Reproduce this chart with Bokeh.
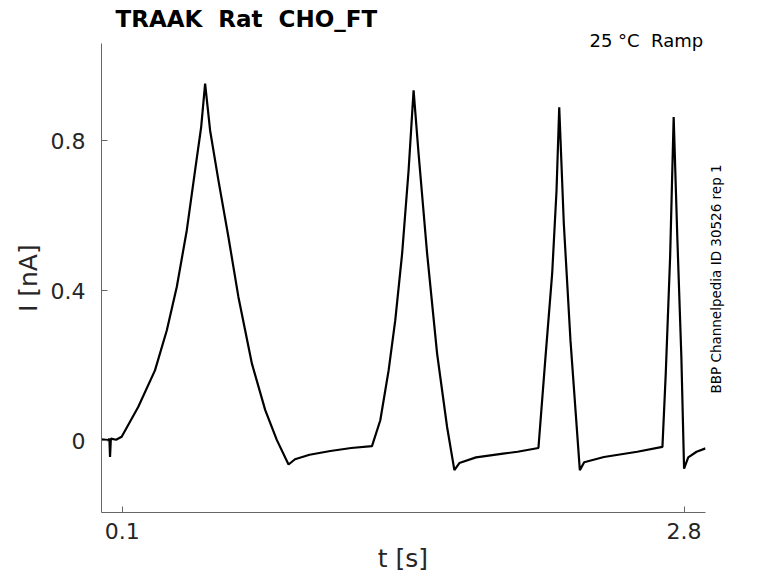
import math
from bokeh.plotting import figure
from bokeh.models import Label, FixedTicker, Range1d, ColumnDataSource
from bokeh.embed import file_html
from bokeh.resources import INLINE

# ---- data (time in s, current in nA) ----
t_s = [0.000, 0.030, 0.038, 0.041, 0.045, 0.070, 0.097,
       0.177, 0.257, 0.314, 0.362, 0.410, 0.450, 0.479, 0.498,
       0.522, 0.562, 0.610, 0.658, 0.723, 0.787, 0.843, 0.899,
       0.930, 1.000, 1.100, 1.200, 1.300,
       1.340, 1.380, 1.412, 1.445, 1.476, 1.500,
       1.524, 1.565, 1.613, 1.661, 1.696,
       1.720, 1.800, 1.930, 2.000, 2.100,
       2.134, 2.166, 2.187, 2.200,
       2.222, 2.254, 2.299,
       2.320, 2.415, 2.575, 2.696,
       2.712, 2.733, 2.750,
       2.768, 2.787, 2.800,
       2.820, 2.860, 2.903]
i_nA = [0.003, 0.001, 0.004, -0.044, 0.005, 0.002, 0.010,
        0.090, 0.187, 0.294, 0.410, 0.561, 0.721, 0.836, 0.952,
        0.827, 0.694, 0.543, 0.383, 0.205, 0.081, 0.001, -0.064,
        -0.050, -0.038, -0.028, -0.020, -0.015,
        0.054, 0.187, 0.321, 0.499, 0.721, 0.934,
        0.765, 0.499, 0.232, 0.036, -0.079,
        -0.060, -0.045, -0.035, -0.030, -0.020,
        0.223, 0.445, 0.667, 0.889,
        0.579, 0.267, -0.079,
        -0.058, -0.044, -0.030, -0.017,
        0.179, 0.490, 0.863,
        0.534, 0.223, -0.075,
        -0.045, -0.030, -0.021]

x_ticks = [0.1, 2.8]
x_tick_labels = ["0.1", "2.8"]
y_ticks = [0.0, 0.4, 0.8]
y_tick_labels = ["0", "0.4", "0.8"]

# double spaces kept visible with a no-break space
title_text = "TRAAK\u00a0 Rat\u00a0 CHO_FT"
cond_text = "25 \u00b0C\u00a0 Ramp"
side_text = "BBP Channelpedia ID 30526 rep 1"
x_label = "t [s]"
y_label = "I [nA]"

FONT = "DejaVu Sans"
AX = "#262626"

p = figure(width=762, height=575, output_backend="svg", toolbar_location=None,
           x_range=Range1d(0.0, 2.903), y_range=Range1d(-0.192, 1.059),
           min_border_left=101, min_border_right=57, min_border_top=43,
           min_border_bottom=63)
p.outline_line_color = None
p.xgrid.visible = False
p.ygrid.visible = False
p.background_fill_color = "white"
p.border_fill_color = "white"

src = ColumnDataSource(dict(t=t_s, i=i_nA))
p.line("t", "i", source=src, line_color="black", line_width=2.2)

for ax in (p.xaxis[0], p.yaxis[0]):
    ax.axis_line_color = "#666666"
    ax.axis_line_width = 1
    ax.major_tick_line_color = "#666666"
    ax.major_tick_in = 6
    ax.major_tick_out = 0
    ax.minor_tick_line_color = None
    ax.major_label_text_font = FONT
    ax.major_label_text_font_size = "22px"
    ax.major_label_text_color = AX

p.xaxis[0].ticker = FixedTicker(ticks=x_ticks)
p.xaxis[0].major_label_overrides = {v: s for v, s in zip(x_ticks, x_tick_labels)}
p.xaxis[0].major_label_standoff = 10
p.yaxis[0].ticker = FixedTicker(ticks=y_ticks)
p.yaxis[0].major_label_overrides = {v: s for v, s in zip(y_ticks, y_tick_labels)}
p.yaxis[0].major_label_standoff = 16

# texts live in side panels (not clipped); anchors in data units at text centre
p.add_layout(Label(x=0.0673, y=1.124, text=title_text, text_font=FONT,
                   text_font_size="23px", text_font_style="bold", text_color="black",
                   text_align="left", text_baseline="middle"), "above")
p.add_layout(Label(x=2.892, y=1.066, text=cond_text, text_font=FONT,
                   text_font_size="18px", text_color="black",
                   text_align="right", text_baseline="middle"), "below")
p.add_layout(Label(x=2.953, y=0.431, text=side_text, text_font=FONT,
                   text_font_size="13.5px", text_color="black", angle=math.pi / 2,
                   text_align="center", text_baseline="middle"), "left")
p.add_layout(Label(x=1.448, y=-0.314, text=x_label, text_font=FONT,
                   text_font_size="25px", text_color=AX,
                   text_align="center", text_baseline="middle"), "right")
p.add_layout(Label(x=-0.353, y=0.433, text=y_label, text_font=FONT,
                   text_font_size="25px", text_color=AX, angle=math.pi / 2,
                   text_align="center", text_baseline="middle"), "left")

open("out.html", "w").write(file_html(p, INLINE))
